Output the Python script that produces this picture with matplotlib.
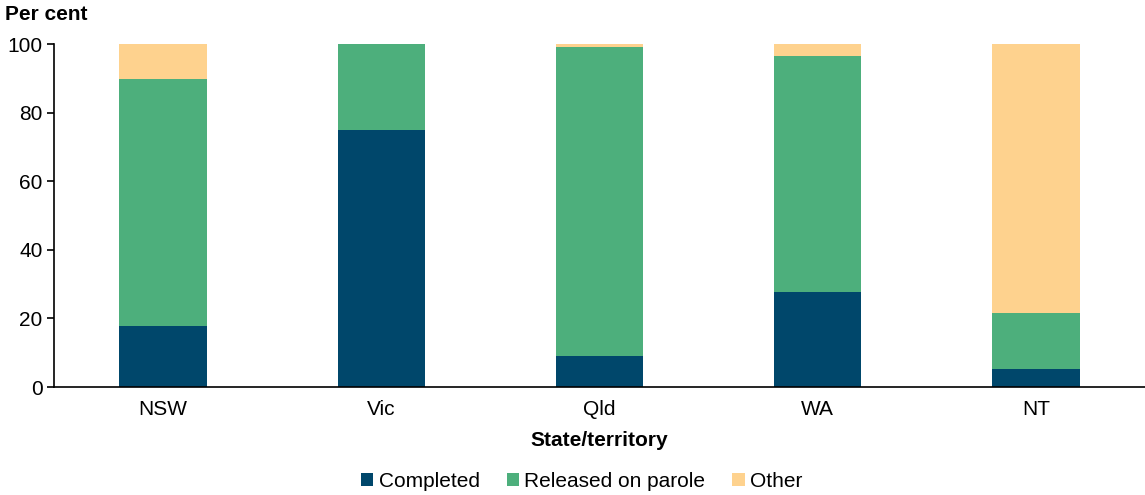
import numpy as np
import matplotlib.pyplot as plt

plt.rcParams['font.family'] = ['Liberation Sans', 'DejaVu Sans']

STATES = ['NSW', 'Vic', 'Qld', 'WA', 'NT']
COMPLETED = [17.9, 74.9, 9.2, 27.6, 5.2]
PAROLE = [71.8, 25.1, 90.0, 68.9, 16.4]
OTHER = [10.3, 0.0, 0.8, 3.5, 78.4]

COLORS = {
    'Completed': '#00476b',
    'Released on parole': '#4daf7c',
    'Other': '#fed28e',
}

FS = 15

fig = plt.figure(figsize=(11.45, 4.95), dpi=100)
ax = fig.add_axes([0.047, 0.218, 0.953, 0.693])

xs = np.arange(len(STATES))
bottom = np.zeros(len(STATES))
for name, vals in [('Completed', COMPLETED), ('Released on parole', PAROLE), ('Other', OTHER)]:
    ax.bar(xs, vals, 0.4, bottom=bottom, color=COLORS[name], label=name)
    bottom += np.array(vals)

ax.set_xlim(-0.5, len(STATES) - 0.5)
ax.set_ylim(0, 100)
ax.set_yticks(range(0, 101, 20))
ax.set_xticks(xs)
ax.set_xticklabels(STATES)
ax.tick_params(axis='both', labelsize=FS, colors='black')
ax.tick_params(axis='x', length=0, pad=9)
ax.tick_params(axis='y', length=5, width=1.2, pad=3)
for s in ['top', 'right']:
    ax.spines[s].set_visible(False)
ax.spines['left'].set_linewidth(1.2)
ax.spines['bottom'].set_linewidth(1.2)

ax.set_xlabel('State/territory', fontsize=FS, fontweight='bold', labelpad=9)
fig.text(0.004, 0.97, 'Per cent', fontsize=FS, fontweight='bold', va='center', ha='left')

handles, labels = ax.get_legend_handles_labels()
fig.legend(handles, labels, loc='center', bbox_to_anchor=(0.508, 0.028), ncol=3,
           frameon=False, fontsize=FS, handlelength=0.6, handleheight=0.6,
           handletextpad=0.25, columnspacing=1.3)

plt.savefig('out.png', dpi=100)
